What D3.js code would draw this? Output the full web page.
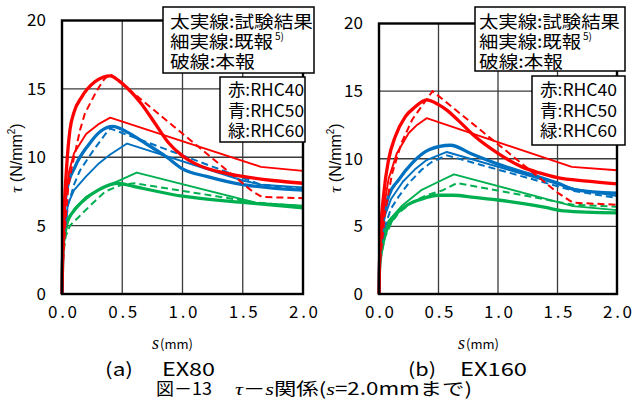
<!DOCTYPE html>
<html><head><meta charset="utf-8">
<script src="https://cdn.jsdelivr.net/npm/d3@7"></script>
<style>body{margin:0;background:#fff}svg{display:block}</style>
</head><body>
<svg id="c" width="634" height="417"></svg>
<script>
// ---- data ----
const xTicks = [0, 0.5, 1.0, 1.5, 2.0];
const yTicks = [0, 5, 10, 15, 20];
const specimens = ["EX80", "EX160"];
const panelTags = ["(a)", "(b)"];
const mixLabels = ["赤:RHC40", "青:RHC50", "緑:RHC60"];
const styleLabels = ["太実線:試験結果", "細実線:既報", "破線:本報"];

// EX80: test (thick), previous report (thin), this report (dashed)
const ex80_RHC40_test = [[0,0],[0.005,2.5],[0.01,4],[0.02,6.5],[0.04,9.5],[0.066,12.0],[0.1,13.3],[0.163,14.4],[0.27,15.5],[0.34,15.85],[0.4,15.95],[0.47,15.6],[0.537,15.1],[0.66,13.9],[0.77,12.5],[0.88,11.1],[1.0,10.1],[1.1,9.55],[1.2,9.2],[1.3,8.95],[1.5,8.6],[1.75,8.3],[2.0,8.1]];
const ex80_RHC40_prev = [[0,0],[0.005,2.5],[0.01,4],[0.03,7],[0.06,9],[0.1,10.3],[0.2,11.7],[0.3,12.4],[0.4,12.9],[1.65,9.3],[2.0,9.0]];
const ex80_RHC40_this = [[0,0],[0.01,2.5],[0.03,5.5],[0.052,7.8],[0.08,9.2],[0.108,10.3],[0.15,12.0],[0.19,13.2],[0.29,14.9],[0.35,15.7],[0.4,16.1],[1.58,7.5],[1.66,7.1],[2.0,7.0]];
const ex80_RHC50_test = [[0,0],[0.005,3],[0.011,4.9],[0.04,7.6],[0.108,9.3],[0.22,10.9],[0.32,11.9],[0.42,12.26],[0.55,11.8],[0.65,11.25],[0.87,10.0],[1.0,9.15],[1.2,8.6],[1.5,8.0],[1.75,7.75],[2.0,7.6]];
const ex80_RHC50_prev = [[0,0],[0.01,4],[0.05,6.6],[0.1,7.6],[0.2,8.6],[0.3,9.5],[0.4,10.2],[0.54,11.0],[1.5,8.3],[1.65,8.0],[2.0,7.8]];
const ex80_RHC50_this = [[0,0],[0.01,3.5],[0.05,6.5],[0.1,8.0],[0.15,9.05],[0.26,10.5],[0.36,11.7],[0.4,12.1],[1.65,8.0],[2.0,7.7]];
const ex80_RHC60_test = [[0,0],[0.005,2.5],[0.015,4],[0.04,5.2],[0.1,6.1],[0.2,7.0],[0.3,7.6],[0.4,8.0],[0.46,8.1],[0.6,7.85],[1.0,7.15],[1.5,6.7],[2.0,6.3]];
const ex80_RHC60_prev = [[0,0],[0.01,3.5],[0.05,5.3],[0.1,6.2],[0.2,7.1],[0.3,7.6],[0.45,8.2],[0.62,8.88],[1.62,6.65],[2.0,6.45]];
const ex80_RHC60_this = [[0,0],[0.01,2.8],[0.03,4.2],[0.066,5.0],[0.135,5.6],[0.25,6.6],[0.36,7.5],[0.5,8.0],[0.6,8.1],[1.6,6.7],[2.0,6.4]];

// EX160
const ex160_RHC40_test = [[0,0],[0.005,2.5],[0.01,3.8],[0.04,7.4],[0.08,9.9],[0.137,11.65],[0.22,13.1],[0.3,13.8],[0.4,14.35],[0.5,14.0],[0.57,13.6],[0.67,12.8],[0.8,11.7],[1.0,10.4],[1.2,9.4],[1.35,8.95],[1.5,8.6],[1.75,8.35],[2.0,8.15]];
const ex160_RHC40_prev = [[0,0],[0.01,3.5],[0.04,6.3],[0.08,8.5],[0.15,10.4],[0.25,11.9],[0.32,12.5],[0.4,13.0],[1.62,9.4],[2.0,9.15]];
const ex160_RHC40_this = [[0,0],[0.01,2.5],[0.05,6.0],[0.11,8.9],[0.19,11.2],[0.28,12.9],[0.36,13.9],[0.45,15.0],[1.5,7.5],[1.63,6.75],[2.0,6.6]];
const ex160_RHC50_test = [[0,0],[0.005,2.5],[0.025,4.7],[0.08,7.2],[0.165,8.44],[0.28,9.7],[0.42,10.67],[0.6,11.0],[0.78,10.35],[1.0,9.6],[1.25,8.9],[1.5,8.2],[1.65,7.7],[2.0,7.45]];
const ex160_RHC50_prev = [[0,0],[0.01,3.5],[0.05,5.8],[0.1,7.0],[0.2,8.3],[0.3,9.2],[0.4,9.9],[0.57,10.5],[1.65,7.75],[2.0,7.25]];
const ex160_RHC50_this = [[0,0],[0.01,3],[0.05,5.0],[0.1,6.3],[0.165,7.2],[0.25,8.2],[0.36,9.2],[0.45,9.8],[0.57,10.25],[1.65,7.6],[2.0,7.1]];
const ex160_RHC60_test = [[0,0],[0.005,2],[0.04,4.0],[0.11,5.5],[0.22,6.47],[0.35,7.0],[0.5,7.3],[0.62,7.3],[0.8,7.15],[1.0,6.95],[1.2,6.7],[1.4,6.4],[1.55,6.15],[2.0,6.0]];
const ex160_RHC60_prev = [[0,0],[0.01,3],[0.04,4.6],[0.08,5.4],[0.19,6.5],[0.36,7.7],[0.5,8.3],[0.63,8.85],[1.63,6.5],[2.0,6.2]];
const ex160_RHC60_this = [[0,0],[0.01,2.5],[0.05,4.2],[0.1,5.2],[0.165,6.0],[0.28,6.8],[0.4,7.3],[0.53,7.65],[0.655,8.2],[1.18,7.35],[1.63,6.6],[2.0,6.45]];

const colors = {RHC40: "#ff0000", RHC50: "#0070c0", RHC60: "#00b050"};

// ---- drawing ----
const svg = d3.select("#c");
svg.append("rect").attr("width", 634).attr("height", 417).attr("fill", "#fff");

const panels = [
  {x0: 62, x1: 303, y0: 294, y1: 20.5,
   series: [
     ["RHC60","prev",ex80_RHC60_prev],["RHC60","this",ex80_RHC60_this],["RHC60","test",ex80_RHC60_test],
     ["RHC50","prev",ex80_RHC50_prev],["RHC50","this",ex80_RHC50_this],["RHC50","test",ex80_RHC50_test],
     ["RHC40","prev",ex80_RHC40_prev],["RHC40","this",ex80_RHC40_this],["RHC40","test",ex80_RHC40_test]],
   big: {x: 163, y: 7, w: 151, h: 66, tx: 170, tw: [143, 103, 85]},
   small: {x: 220, y: 77, w: 85, h: 65, tx: 228, tw: 76},
   ytitleX: 22, tagX: 105, specX: 162, specW: 53, xtitleX: 152},
  {x0: 379, x1: 617, y0: 294, y1: 23.5,
   series: [
     ["RHC60","prev",ex160_RHC60_prev],["RHC60","this",ex160_RHC60_this],["RHC60","test",ex160_RHC60_test],
     ["RHC50","prev",ex160_RHC50_prev],["RHC50","this",ex160_RHC50_this],["RHC50","test",ex160_RHC50_test],
     ["RHC40","prev",ex160_RHC40_prev],["RHC40","this",ex160_RHC40_this],["RHC40","test",ex160_RHC40_test]],
   big: {x: 475, y: 7, w: 150, h: 64, tx: 479, tw: [141, 102, 84]},
   small: {x: 532, y: 76, w: 93, h: 69, tx: 540, tw: 77},
   ytitleX: 341, tagX: 408, specX: 460, specW: 67, xtitleX: 458}
];

const jpFont = "'Noto Sans CJK JP', 'Noto Sans', sans-serif";
const latin = "'Liberation Sans', Arial, sans-serif";
const serif = "'Liberation Serif', serif";

panels.forEach((p, i) => {
  const x = d3.scaleLinear().domain([0, 2]).range([p.x0, p.x1]);
  const y = d3.scaleLinear().domain([0, 20]).range([p.y0, p.y1]);
  const g = svg.append("g");

  // grid
  g.append("g").selectAll("line").data(yTicks.filter(v => v > 0 && v < 20)).join("line")
    .attr("x1", p.x0).attr("x2", p.x1).attr("y1", d => y(d)).attr("y2", d => y(d))
    .attr("stroke", "#3a3a3a").attr("stroke-width", 1.3);
  g.append("g").selectAll("line").data(xTicks.filter(v => v > 0 && v < 2)).join("line")
    .attr("y1", p.y0).attr("y2", p.y1).attr("x1", d => x(d)).attr("x2", d => x(d))
    .attr("stroke", "#3a3a3a").attr("stroke-width", 1.3);

  // series
  const lineLin = d3.line().x(d => x(d[0])).y(d => y(d[1]));
  const lineSmooth = d3.line().x(d => x(d[0])).y(d => y(d[1])).curve(d3.curveMonotoneX);
  p.series.forEach(([mix, kind, data]) => {
    const path = g.append("path").datum(data)
      .attr("fill", "none").attr("stroke", colors[mix])
      .attr("stroke-linejoin", "round").attr("stroke-linecap", "butt");
    if (kind === "test") path.attr("d", lineSmooth).attr("stroke-width", 3.3);
    else if (kind === "prev") path.attr("d", lineLin).attr("stroke-width", 1.9);
    else path.attr("d", lineLin).attr("stroke-width", 2).attr("stroke-dasharray", "7,4");
  });

  // frame
  g.append("rect").attr("x", p.x0).attr("y", p.y1).attr("width", p.x1 - p.x0).attr("height", p.y0 - p.y1)
    .attr("fill", "none").attr("stroke", "#000").attr("stroke-width", 2.4);

  // axes
  const ya = g.append("g").attr("transform", `translate(${p.x0},0)`)
    .call(d3.axisLeft(y).tickValues(yTicks).tickSize(0).tickPadding(16).tickFormat(d3.format("d")));
  ya.select(".domain").remove();
  ya.selectAll("text").attr("font-family", jpFont).attr("font-size", 17).attr("fill", "#000")
    .each(function(d) { if (d >= 10) d3.select(this).attr("textLength", 19).attr("lengthAdjust", "spacing"); });
  const xa = g.append("g").attr("transform", `translate(0,${p.y0})`)
    .call(d3.axisBottom(x).tickValues(xTicks).tickSize(0).tickPadding(12).tickFormat(d3.format(".1f")));
  xa.select(".domain").remove();
  xa.selectAll("text").attr("font-family", jpFont).attr("font-size", 17).attr("fill", "#000")
    .attr("textLength", 29).attr("lengthAdjust", "spacing");

  // y title
  const yt = g.append("text").attr("transform", `translate(${p.ytitleX},158) rotate(-90)`)
    .attr("text-anchor", "middle").attr("font-family", latin).attr("font-size", 16).attr("fill", "#000");
  yt.append("tspan").attr("font-family", serif).attr("font-style", "italic").attr("font-size", 17).text("τ");
  yt.append("tspan").text(" (N/mm");
  yt.append("tspan").attr("font-size", 10).attr("dy", -7).text("2");
  yt.append("tspan").attr("dy", 7).text(")");

  // x title
  const xt = g.append("text").attr("x", p.xtitleX).attr("y", 349).attr("font-family", jpFont).attr("font-size", 13).attr("fill", "#000");
  xt.append("tspan").attr("font-family", serif).attr("font-style", "italic").attr("font-size", 18).text("s");
  xt.append("tspan").attr("dx", 1).text("(mm)");

  // big legend box
  g.append("rect").attr("x", p.big.x).attr("y", p.big.y).attr("width", p.big.w).attr("height", p.big.h)
    .attr("fill", "#fff").attr("stroke", "#000").attr("stroke-width", 1.5);
  const bl = [27.5, 47.5, 68];
  styleLabels.forEach((s, k) => {
    g.append("text").attr("x", p.big.tx).attr("y", bl[k]).attr("font-family", jpFont).attr("font-size", 17.5)
      .attr("fill", "#000").attr("textLength", p.big.tw[k]).attr("lengthAdjust", "spacingAndGlyphs").text(s);
  });
  g.append("text").attr("x", p.big.tx + p.big.tw[1] + 2).attr("y", 40).attr("font-family", jpFont).attr("font-size", 10)
    .attr("fill", "#000").text("5)");

  // small legend box
  g.append("rect").attr("x", p.small.x).attr("y", p.small.y).attr("width", p.small.w).attr("height", p.small.h)
    .attr("fill", "#fff").attr("stroke", "#000").attr("stroke-width", 1.5);
  const sl = [96, 116.5, 137];
  mixLabels.forEach((s, k) => {
    g.append("text").attr("x", p.small.tx).attr("y", sl[k]).attr("font-family", jpFont).attr("font-size", 17)
      .attr("fill", "#000").attr("textLength", p.small.tw).attr("lengthAdjust", "spacingAndGlyphs").text(s);
  });

  // panel caption
  g.append("text").attr("x", p.tagX).attr("y", 376).attr("font-family", jpFont).attr("font-size", 18)
    .attr("fill", "#000").attr("textLength", 28).attr("lengthAdjust", "spacingAndGlyphs").text(panelTags[i]);
  g.append("text").attr("x", p.specX).attr("y", 376).attr("font-family", jpFont).attr("font-size", 18)
    .attr("fill", "#000").attr("textLength", p.specW).attr("lengthAdjust", "spacingAndGlyphs").text(specimens[i]);
});

// figure caption
svg.append("text").attr("x", 156).attr("y", 395).attr("font-family", jpFont).attr("font-size", 17.5)
  .attr("fill", "#000").attr("textLength", 56).attr("lengthAdjust", "spacingAndGlyphs").text("図－13");
const cap = svg.append("text").attr("x", 235).attr("y", 395).attr("font-family", jpFont).attr("font-size", 17.5)
  .attr("fill", "#000").attr("textLength", 237).attr("lengthAdjust", "spacingAndGlyphs");
cap.append("tspan").attr("font-family", serif).attr("font-style", "italic").text("τ");
cap.append("tspan").text("－");
cap.append("tspan").attr("font-family", serif).attr("font-style", "italic").text("s");
cap.append("tspan").text("関係(");
cap.append("tspan").attr("font-family", serif).attr("font-style", "italic").text("s");
cap.append("tspan").text("=2.0mmまで)");
</script>
</body></html>
